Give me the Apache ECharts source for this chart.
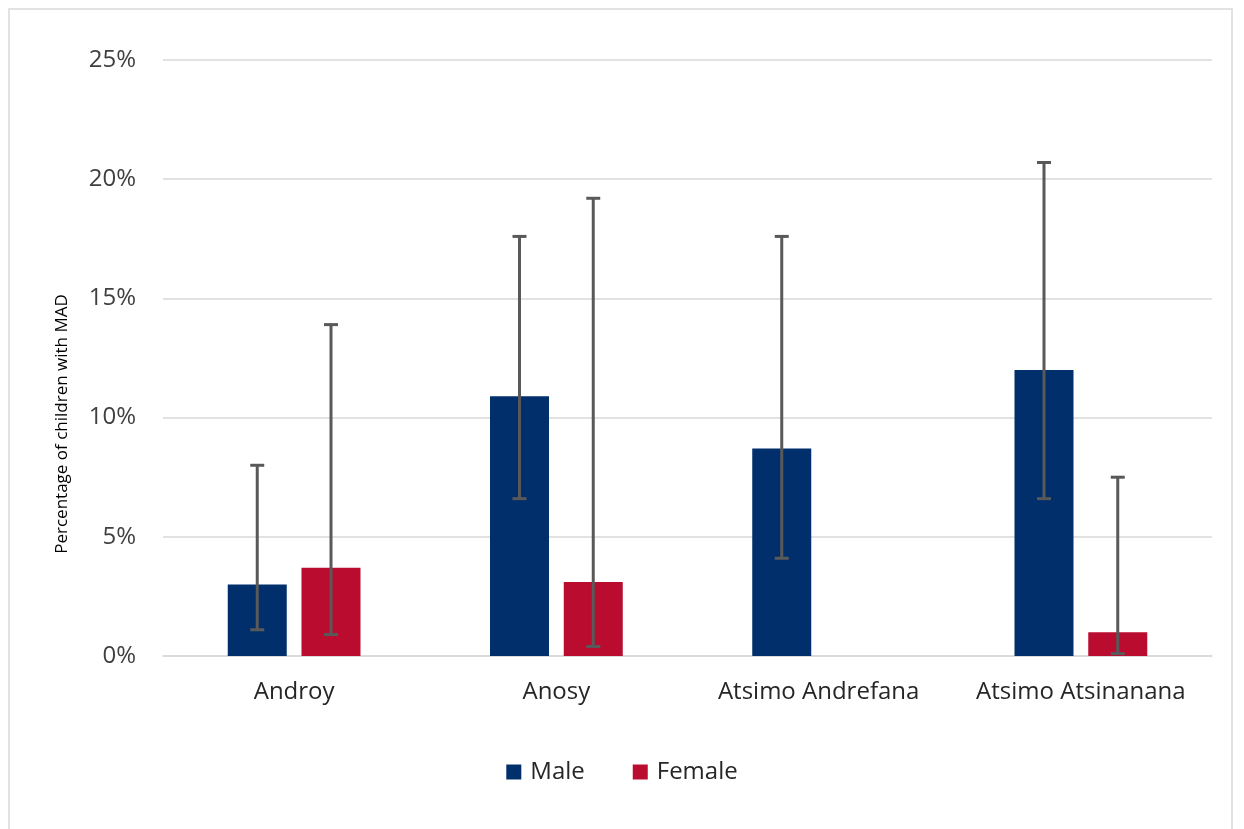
<!DOCTYPE html>
<html>
<head>
<meta charset="utf-8">
<script src="https://cdn.jsdelivr.net/npm/echarts@6/dist/echarts.min.js"></script>
<style>
html,body{margin:0;padding:0;background:#fff;}
#chart{width:1244px;height:829px;}
</style>
</head>
<body>
<div id="chart"></div>
<script>
const categories = ['Androy', 'Anosy', 'Atsimo Andrefana', 'Atsimo Atsinanana'];
const maleValues = [3.0, 10.9, 8.7, 12.0];
const maleLower = [1.1, 6.6, 4.1, 6.6];
const maleUpper = [8.0, 17.6, 17.6, 20.7];
const femaleValues = [3.7, 3.1, null, 1.0];
const femaleLower = [0.9, 0.4, null, 0.1];
const femaleUpper = [13.9, 19.2, null, 7.5];
const yTicks = [0, 5, 10, 15, 20, 25];
const yTitle = 'Percentage of children with MAD';

const FONT = 'Open Sans';
const BAR_FRAC = 0.225;
const GAP_FRAC = 0.25;

function errData(lower, upper) {
  return categories.map((c, i) => lower[i] == null ? null : [i, lower[i], upper[i]]);
}

function errorRender(sign) {
  return function (params, api) {
    const idx = api.value(0);
    const lo = api.coord([idx, api.value(1)]);
    const hi = api.coord([idx, api.value(2)]);
    const band = api.size([1, 0])[0];
    const bw = band * BAR_FRAC;
    const off = sign * (bw + bw * GAP_FRAC) / 2;
    const x = lo[0] + off;
    const cap = 7;
    const style = { stroke: '#595959', lineWidth: 3 };
    return {
      type: 'group',
      children: [
        { type: 'line', shape: { x1: x, y1: lo[1], x2: x, y2: hi[1] }, style: style },
        { type: 'line', shape: { x1: x - cap, y1: lo[1], x2: x + cap, y2: lo[1] }, style: style },
        { type: 'line', shape: { x1: x - cap, y1: hi[1], x2: x + cap, y2: hi[1] }, style: style }
      ]
    };
  };
}

const chart = echarts.init(document.getElementById('chart'), null, { renderer: 'canvas' });
chart.setOption({
  backgroundColor: '#ffffff',
  animation: false,
  textStyle: { fontFamily: FONT },
  graphic: [
    {
      type: 'rect',
      shape: { x: 9, y: 9, width: 1223, height: 830 },
      style: { fill: 'none', stroke: '#d9d9d9', lineWidth: 1.5 },
      silent: true
    },
    {
      type: 'text',
      x: 62, y: 424,
      rotation: Math.PI / 2,
      style: {
        text: yTitle, fontSize: 17, fontFamily: FONT, fill: '#000000',
        align: 'center', verticalAlign: 'middle'
      },
      silent: true
    }
  ],
  grid: { left: 163, right: 32, top: 60, bottom: 173, containLabel: false },
  legend: {
    top: 755,
    left: 'center',
    itemWidth: 15,
    itemHeight: 15,
    itemGap: 48,
    icon: 'rect',
    textStyle: { fontSize: 24, color: '#262626', fontFamily: FONT, padding: [0, 0, 0, 4] },
    data: ['Male', 'Female']
  },
  xAxis: {
    type: 'category',
    data: categories,
    axisLine: { show: true, lineStyle: { color: '#d9d9d9', width: 1.5 } },
    axisTick: { show: false },
    axisLabel: { fontSize: 24, color: '#262626', margin: 24, fontFamily: FONT, interval: 0 }
  },
  yAxis: {
    type: 'value',
    min: 0,
    max: 25,
    interval: 5,
    axisLine: { show: false },
    axisTick: { show: false },
    splitLine: { lineStyle: { color: '#d9d9d9', width: 1.5 } },
    axisLabel: {
      fontSize: 24, color: '#404040', margin: 27, fontFamily: FONT,
      formatter: v => yTicks.indexOf(v) >= 0 ? v + '%' : ''
    }
  },
  series: [
    {
      name: 'Male', type: 'bar', data: maleValues,
      barWidth: (BAR_FRAC * 100) + '%', barGap: (GAP_FRAC * 100) + '%',
      itemStyle: { color: '#002f6c' }
    },
    {
      name: 'Female', type: 'bar', data: femaleValues,
      barWidth: (BAR_FRAC * 100) + '%', barGap: (GAP_FRAC * 100) + '%',
      itemStyle: { color: '#ba0c2f' }
    },
    {
      name: 'MaleErr', type: 'custom', renderItem: errorRender(-1),
      data: errData(maleLower, maleUpper), z: 10,
      encode: { x: 0, y: [1, 2] }
    },
    {
      name: 'FemaleErr', type: 'custom', renderItem: errorRender(1),
      data: errData(femaleLower, femaleUpper), z: 10,
      encode: { x: 0, y: [1, 2] }
    }
  ]
});
</script>
</body>
</html>
